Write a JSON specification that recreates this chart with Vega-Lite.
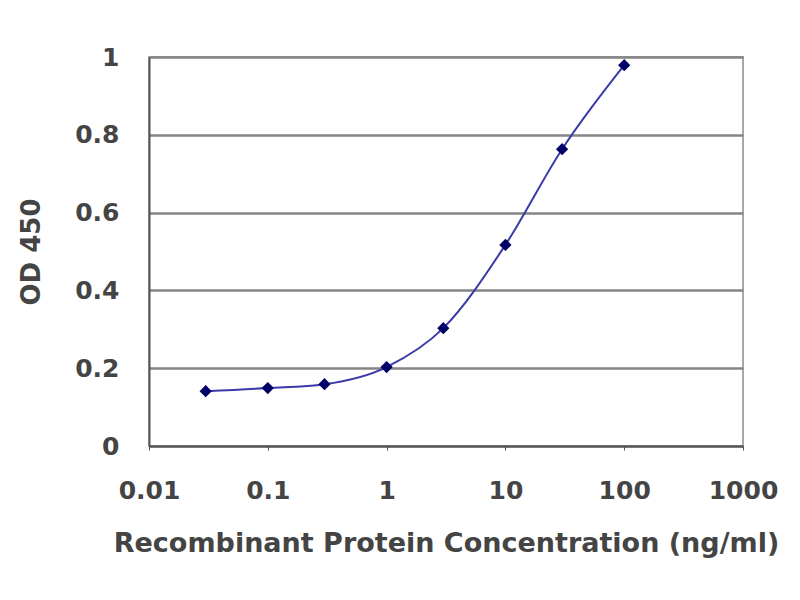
{
  "$schema": "https://vega.github.io/schema/vega-lite/v6.json",
  "width": 594,
  "height": 389,
  "autosize": "none",
  "padding": {"left": 149, "top": 57, "right": 57, "bottom": 154},
  "background": "white",
  "config": {
    "font": "DejaVu Sans",
    "view": {"stroke": "#a8a8a8", "strokeWidth": 2}
  },
  "data": {
    "values": [
      {"conc": 0.03, "od": 0.141},
      {"conc": 0.1, "od": 0.149},
      {"conc": 0.3, "od": 0.159},
      {"conc": 1, "od": 0.203},
      {"conc": 3, "od": 0.303},
      {"conc": 10, "od": 0.517},
      {"conc": 30, "od": 0.763},
      {"conc": 100, "od": 0.979}
    ]
  },
  "encoding": {
    "x": {
      "field": "conc",
      "type": "quantitative",
      "scale": {"type": "log", "domain": [0.01, 1000]},
      "axis": {
        "title": "Recombinant Protein Concentration (ng/ml)",
        "values": [0.01, 0.1, 1, 10, 100, 1000],
        "format": "~g",
        "grid": false,
        "domainColor": "#555555",
        "domainWidth": 2,
        "tickColor": "#555555",
        "tickSize": 4,
        "labelFont": "DejaVu Sans",
        "labelFontWeight": "bold",
        "labelFontSize": 25,
        "labelColor": "#444444",
        "labelPadding": 28,
        "labelFlush": false,
        "titleFont": "DejaVu Sans",
        "titleFontSize": 27,
        "titleFontWeight": "bold",
        "titleColor": "#444444",
        "titlePadding": 27
      }
    },
    "y": {
      "field": "od",
      "type": "quantitative",
      "scale": {"domain": [0, 1]},
      "axis": {
        "title": "OD 450",
        "values": [0, 0.2, 0.4, 0.6, 0.8, 1],
        "format": "~g",
        "grid": true,
        "gridColor": "#858585",
        "gridWidth": 2.5,
        "domainColor": "#555555",
        "domainWidth": 2,
        "ticks": false,
        "labelFont": "DejaVu Sans",
        "labelFontWeight": "bold",
        "labelFontSize": 25,
        "labelColor": "#444444",
        "labelPadding": 30,
        "titleFont": "DejaVu Sans",
        "titleFontSize": 26,
        "titleFontWeight": "bold",
        "titleColor": "#444444",
        "titlePadding": 30
      }
    }
  },
  "layer": [
    {
      "mark": {"type": "line", "interpolate": "monotone", "color": "#3a3aa8", "strokeWidth": 2}
    },
    {
      "mark": {"type": "point", "shape": "diamond", "filled": true, "color": "#000066", "size": 150, "opacity": 1}
    }
  ]
}
